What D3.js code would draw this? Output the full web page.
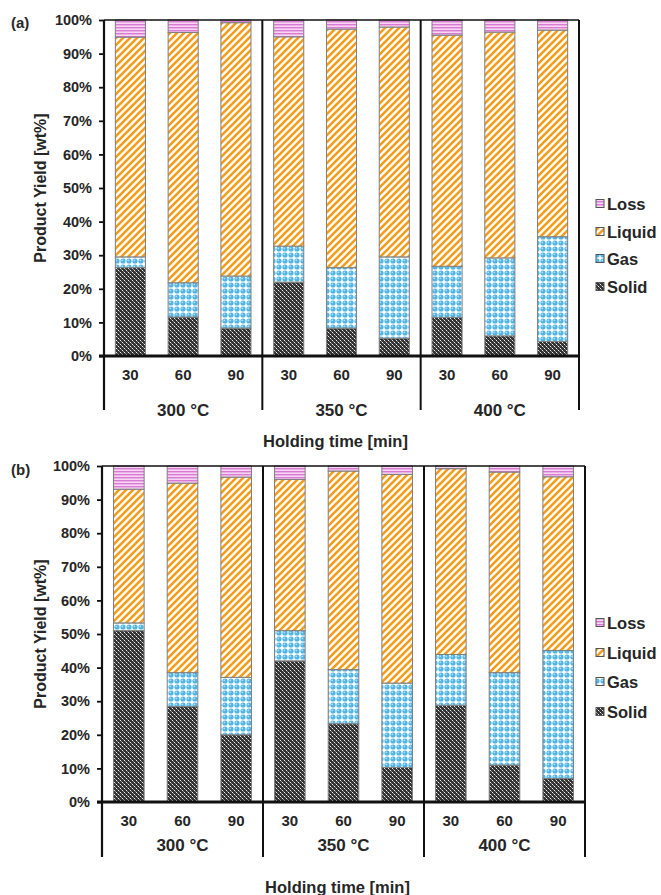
<!DOCTYPE html>
<html><head><meta charset="utf-8">
<script src="https://cdn.jsdelivr.net/npm/d3@7"></script>
<style>body{margin:0;background:#fff}svg{display:block}text{font-family:"Liberation Sans",Arial,sans-serif;font-weight:bold;fill:#262626}</style>
</head><body><svg id="c" width="661" height="895"></svg>
<script>
// ---- data ----
const temperatures = ["300 °C", "350 °C", "400 °C"];
const holdingTimes = ["30", "60", "90"];
const seriesKeys = ["Solid", "Gas", "Liquid", "Loss"];
const yTicks = [0,10,20,30,40,50,60,70,80,90,100];
// panel (a)
const solidA  = [26.3, 11.6, 8.3, 22.0, 8.3, 5.3, 11.5, 6.0, 4.3];
const gasA    = [3.2, 10.2, 15.5, 10.7, 18.0, 24.2, 15.2, 23.2, 31.2];
const liquidA = [65.4, 74.5, 75.4, 62.3, 71.0, 68.4, 68.8, 67.2, 61.5];
const lossA   = [5.1, 3.7, 0.8, 5.0, 2.7, 2.1, 4.5, 3.6, 3.0];
// panel (b)
const solidB  = [51.0, 28.4, 20.0, 42.0, 23.3, 10.3, 28.8, 11.0, 7.0];
const gasB    = [2.3, 10.1, 17.1, 9.0, 16.1, 25.1, 15.1, 27.5, 38.1];
const liquidB = [39.8, 56.4, 59.6, 45.0, 59.1, 62.1, 55.3, 59.7, 51.7];
const lossB   = [6.9, 5.1, 3.3, 4.0, 1.5, 2.5, 0.8, 1.8, 3.2];

const svg = d3.select("#c");
const defs = svg.append("defs");
// patterns
const pLoss = defs.append("pattern").attr("id","pLoss").attr("patternUnits","userSpaceOnUse").attr("width",4).attr("height",3);
pLoss.append("rect").attr("width",4).attr("height",3).attr("fill","#f7d6f4");
pLoss.append("rect").attr("width",4).attr("height",1.4).attr("fill","#d97bd5");
const pLiq = defs.append("pattern").attr("id","pLiquid").attr("patternUnits","userSpaceOnUse").attr("width",7).attr("height",7);
pLiq.append("rect").attr("width",7).attr("height",7).attr("fill","#fff");
pLiq.append("path").attr("d","M0,7L7,0M-1.75,1.75L1.75,-1.75M5.25,8.75L8.75,5.25").attr("stroke","#f59d1a").attr("stroke-width",2.6);
const pGas = defs.append("pattern").attr("id","pGas").attr("patternUnits","userSpaceOnUse").attr("width",6).attr("height",6);
pGas.append("rect").attr("width",6).attr("height",6).attr("fill","#ffffff");
pGas.append("circle").attr("cx",3).attr("cy",3).attr("r",2.6).attr("fill","#50b4e6");
pGas.append("circle").attr("cx",2.3).attr("cy",2.3).attr("r",0.9).attr("fill","#b6e2f7");
const pSol = defs.append("pattern").attr("id","pSolid").attr("patternUnits","userSpaceOnUse").attr("width",4).attr("height",4);
pSol.append("rect").attr("width",4).attr("height",4).attr("fill","#333");
pSol.append("rect").attr("x",0).attr("y",0).attr("width",1).attr("height",1).attr("fill","#f0f0f0");
pSol.append("rect").attr("x",2).attr("y",2).attr("width",1).attr("height",1).attr("fill","#f0f0f0");
pSol.append("rect").attr("x",1).attr("y",1).attr("width",1).attr("height",1).attr("fill","#8a8a8a");
pSol.append("rect").attr("x",3).attr("y",3).attr("width",1).attr("height",1).attr("fill","#8a8a8a");
const fills = {Solid:"url(#pSolid)", Gas:"url(#pGas)", Liquid:"url(#pLiquid)", Loss:"url(#pLoss)"};

const panels = [
  {label:"(a)", labelY:22, top:20, bottom:356, left:104, right:579, tickY:374, groupY:410, lineEnd:410, titleY:441,
   legendY:[204,232,259,287], series:{Solid:solidA, Gas:gasA, Liquid:liquidA, Loss:lossA}},
  {label:"(b)", labelY:469, top:466, bottom:802, left:102, right:585, tickY:820, groupY:845, lineEnd:857, titleY:887,
   legendY:[623,653,682,712], series:{Solid:solidB, Gas:gasB, Liquid:liquidB, Loss:lossB}}
];

panels.forEach(p => {
  const g = svg.append("g");
  const cats = [];
  temperatures.forEach((t,ti) => holdingTimes.forEach((h,hi) => cats.push({id: ti*3+hi, temp:t, time:h})));
  const rows = cats.map((c,i) => ({id:c.id, Solid:p.series.Solid[i], Gas:p.series.Gas[i], Liquid:p.series.Liquid[i], Loss:p.series.Loss[i]}));
  const x = d3.scaleBand().domain(cats.map(c=>c.id)).range([p.left,p.right]).paddingInner(0.43).paddingOuter(0.215);
  const xg = d3.scaleBand().domain(temperatures).range([p.left,p.right]);
  const y = d3.scaleLinear().domain([0,100]).range([p.bottom,p.top]);
  const stack = d3.stack().keys(seriesKeys)(rows);

  stack.forEach(layer => {
    g.append("g").selectAll("rect").data(layer).join("rect")
      .attr("x", d => x(d.data.id)).attr("width", x.bandwidth())
      .attr("y", d => y(d[1])).attr("height", d => y(d[0]) - y(d[1]))
      .attr("fill", fills[layer.key]).attr("stroke","#7f7f7f").attr("stroke-width",1);
  });

  g.append("line").attr("x1",p.left).attr("x2",p.right).attr("y1",p.top).attr("y2",p.top).attr("stroke","#111").attr("stroke-width",1.6);
  xg.domain().forEach((t,i) => {
    if (i>0) g.append("line").attr("x1",xg(t)).attr("x2",xg(t)).attr("y1",p.top).attr("y2",p.lineEnd).attr("stroke","#111").attr("stroke-width",2);
  });
  g.append("line").attr("x1",p.right).attr("x2",p.right).attr("y1",p.top).attr("y2",p.lineEnd).attr("stroke","#111").attr("stroke-width",2);
  g.append("line").attr("x1",p.left).attr("x2",p.left).attr("y1",p.top).attr("y2",p.lineEnd).attr("stroke","#111").attr("stroke-width",2.2);
  g.append("line").attr("x1",p.left-5).attr("x2",p.right).attr("y1",p.bottom).attr("y2",p.bottom).attr("stroke","#111").attr("stroke-width",3);

  const ya = g.append("g").attr("transform",`translate(${p.left},0)`)
    .call(d3.axisLeft(y).tickValues(yTicks).tickFormat(d => d + "%").tickSize(5).tickPadding(7));
  ya.select(".domain").remove();
  ya.selectAll(".tick line").attr("stroke","#111").attr("stroke-width",1.8);
  ya.selectAll(".tick text").attr("font-size",14.5).attr("fill","#262626").attr("font-family","Liberation Sans").attr("font-weight","bold");

  g.append("g").selectAll("text").data(cats).join("text")
    .attr("x", d => x(d.id) + x.bandwidth()/2).attr("y", p.tickY)
    .attr("text-anchor","middle").attr("dominant-baseline","central").attr("font-size",15)
    .text(d => d.time);
  g.append("g").selectAll("text").data(temperatures).join("text")
    .attr("x", d => xg(d) + xg.bandwidth()/2).attr("y", p.groupY)
    .attr("text-anchor","middle").attr("dominant-baseline","central").attr("font-size",17)
    .text(d => d);

  g.append("text").attr("x",(p.left+p.right)/2 - 6).attr("y",p.titleY).attr("text-anchor","middle")
    .attr("dominant-baseline","central").attr("font-size",16.5).text("Holding time [min]");
  g.append("text").attr("transform",`translate(40,${(p.top+p.bottom)/2}) rotate(-90)`).attr("text-anchor","middle")
    .attr("dominant-baseline","central").attr("font-size",16).text("Product Yield [wt%]");
  g.append("text").attr("x",11).attr("y",p.labelY).attr("dominant-baseline","central").attr("font-size",15).text(p.label);

  const legKeys = ["Loss","Liquid","Gas","Solid"];
  legKeys.forEach((k,i) => {
    const ly = p.legendY[i];
    g.append("rect").attr("x",596).attr("y",ly-4.5).attr("width",8).attr("height",8)
      .attr("fill",fills[k]).attr("stroke","#555").attr("stroke-width",1);
    g.append("text").attr("x",607).attr("y",ly).attr("dominant-baseline","central").attr("font-size",16.5).text(k);
  });
});
</script></body></html>
